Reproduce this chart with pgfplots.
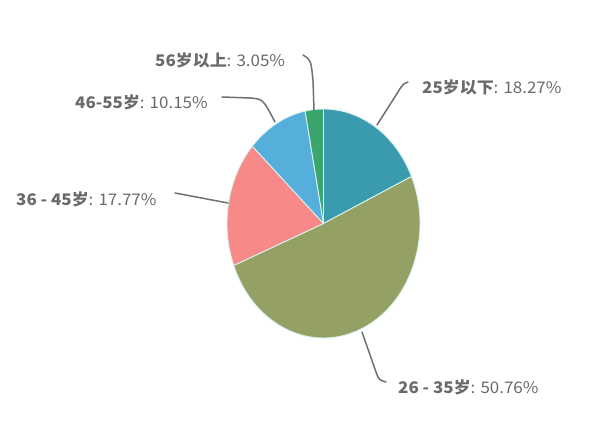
\documentclass[border=0pt]{standalone}
\usepackage{pgfplots}
\pgfplotsset{compat=1.18}
\usepackage{fontspec}
\setmainfont{Noto Sans CJK SC}
\definecolor{c25}{HTML}{3A9BAE}
\definecolor{c26}{HTML}{94A064}
\definecolor{c36}{HTML}{F78A89}
\definecolor{c46}{HTML}{56AEDB}
\definecolor{c56}{HTML}{3AA66E}
\definecolor{sep}{HTML}{D8F2EE}
\definecolor{lead}{HTML}{707070}
\definecolor{txt}{HTML}{6A6A6A}

% pie geometry (pixel units, y up)
\def\cx{323.5}
\def\cy{212.5}
\def\rx{96.5}
\def\ry{114.5}

% slice from cumulative percent #1 to #2, clockwise from 12 o'clock
\newcommand\slice[3]{%
  \fill[#3, draw=sep, line width=0.9pt, line join=round]
    (axis cs:\cx,\cy) -- (axis cs:{\cx+\rx*cos(90-3.6*(#1))},{\cy+\ry*sin(90-3.6*(#1))})
    arc[start angle={90-3.6*(#1)}, end angle={90-3.6*(#2)},
        x radius=\rx pt, y radius=\ry pt] -- cycle;}

\newcommand\lab[2]{\scalebox{1.06}[1]{\color{txt}\fontsize{16}{18}\selectfont\textbf{#1}: #2}}

\begin{document}
\begin{tikzpicture}
\begin{axis}[
  scale only axis, width=605pt, height=436pt,
  xmin=0, xmax=605, ymin=0, ymax=436,
  hide axis, clip=false]
  \path (axis cs:0,0) rectangle (axis cs:605,436);

  \slice{0}{18.27}{c25}
  \slice{18.27}{18.27+50.76}{c26}
  \slice{18.27+50.76}{18.27+50.76+17.77}{c36}
  \slice{18.27+50.76+17.77}{18.27+50.76+17.77+10.15}{c46}
  \slice{18.27+50.76+17.77+10.15}{100}{c56}

  \begin{scope}[lead, line width=1.5pt, line cap=round]
    \draw (axis cs:303,381) .. controls (axis cs:311,376) .. (axis cs:313,355) -- (axis cs:314,326);
    \draw (axis cs:222,339) -- (axis cs:250,338) .. controls (axis cs:263,337) .. (axis cs:275,314);
    \draw (axis cs:408,354) .. controls (axis cs:403,352) .. (axis cs:398,344) -- (axis cs:377,311);
    \draw (axis cs:175,243) -- (axis cs:228,233);
    \draw (axis cs:362,104) -- (axis cs:376,64) .. controls (axis cs:379,56) .. (axis cs:386,54);
  \end{scope}

  \node[anchor=west, inner sep=0pt] at (axis cs:155,376) {\lab{56岁以上}{3.05\%}};
  \node[anchor=west, inner sep=0pt] at (axis cs:422,349) {\lab{25岁以下}{18.27\%}};
  \node[anchor=west, inner sep=0pt] at (axis cs:75,334) {\lab{46-55岁}{10.15\%}};
  \node[anchor=west, inner sep=0pt] at (axis cs:16,237) {\lab{36 - 45岁}{17.77\%}};
  \node[anchor=west, inner sep=0pt] at (axis cs:398,49) {\lab{26 - 35岁}{50.76\%}};
\end{axis}
\end{tikzpicture}
\end{document}
